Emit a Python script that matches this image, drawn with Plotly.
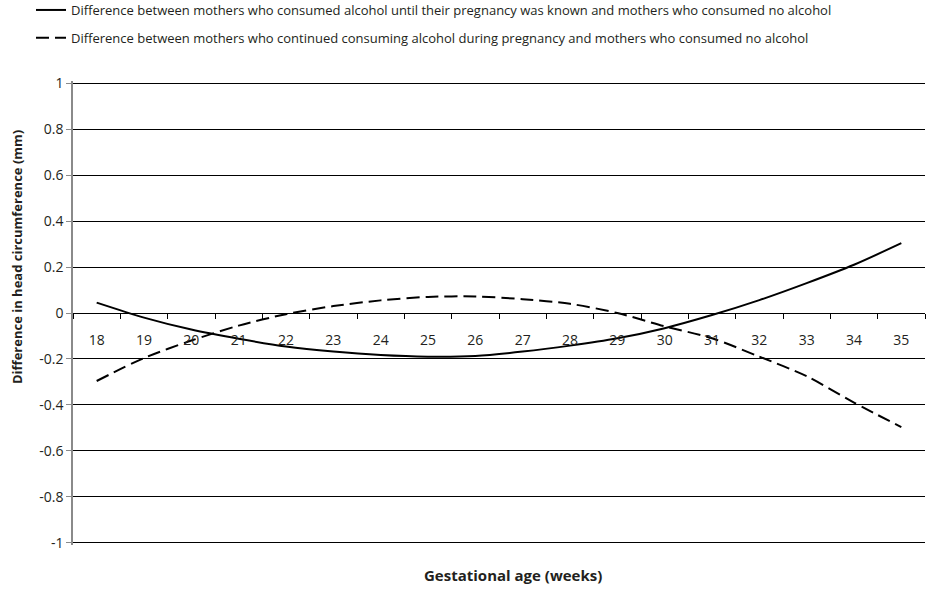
import plotly.graph_objects as go

# Gestational age categories (weeks)
weeks = [str(w) for w in range(18, 36)]

# Difference in head circumference (mm) vs. mothers who consumed no alcohol
until_known = [0.045, -0.02, -0.072, -0.112, -0.146, -0.168, -0.183, -0.19, -0.187,
               -0.168, -0.142, -0.11, -0.066, -0.009, 0.056, 0.13, 0.21, 0.304]
continued = [-0.296, -0.196, -0.12, -0.055, -0.005, 0.03, 0.055, 0.07, 0.072,
             0.06, 0.04, 0.0, -0.058, -0.11, -0.19, -0.275, -0.39, -0.497]

# Y axis ticks (plain hyphen minus signs)
y_tick_vals = [-1, -0.8, -0.6, -0.4, -0.2, 0, 0.2, 0.4, 0.6, 0.8, 1]
y_tick_text = ["-1", "-0.8", "-0.6", "-0.4", "-0.2", "0", "0.2", "0.4", "0.6", "0.8", "1"]

label_until = ("Difference between mothers who consumed alcohol until their pregnancy "
               "was known and mothers who consumed no alcohol")
label_cont = ("Difference between mothers who continued consuming alcohol during "
              "pregnancy and mothers who consumed no alcohol")

FONT = "Open Sans, Lato, sans-serif"
INK = "#231f20"

fig = go.Figure()
fig.add_trace(go.Scatter(
    x=weeks, y=until_known, mode="lines", name=label_until,
    line=dict(color="black", width=2, shape="spline", smoothing=0.8),
    legendgroup="a",
))
fig.add_trace(go.Scatter(
    x=weeks, y=continued, mode="lines", name=label_cont,
    line=dict(color="black", width=2, shape="spline", smoothing=0.8, dash="13px,6px"),
    legendgroup="b",
))

# small padding on the value range so the +/-1 gridlines stay visible
Y_PAD = 0.01
L, R, T, B = 73, 5, 81, 44
W, H = 930, 589
pw, ph = W - L - R, H - T - B


def y_paper(py):
    """Convert a pixel row to paper y coordinates."""
    return (H - B - py) / ph


fig.update_layout(
    width=W, height=H,
    margin=dict(l=L, r=R, t=T, b=B, autoexpand=False),
    paper_bgcolor="white", plot_bgcolor="white",
    font=dict(family=FONT, color=INK, size=13),
    showlegend=True,
    legend=dict(
        x=(31 - L) / pw, y=y_paper(-5), xanchor="left", yanchor="top",
        font=dict(family=FONT, size=13, color=INK),
        itemwidth=30, tracegroupgap=8, bgcolor="rgba(0,0,0,0)",
    ),
    xaxis=dict(
        type="category", range=[-0.5, len(weeks) - 0.5],
        anchor="free", position=0.5,
        showline=True, linecolor="black", linewidth=1,
        ticks="outside", tickson="boundaries", ticklen=5, tickcolor="black",
        showgrid=False, zeroline=False,
        tickfont=dict(family=FONT, size=14, color=INK),
        ticklabelstandoff=14,
    ),
    yaxis=dict(
        range=[-1 - Y_PAD, 1 + Y_PAD], tickmode="array",
        tickvals=y_tick_vals, ticktext=y_tick_text,
        showgrid=True, gridcolor="black", gridwidth=1,
        zeroline=False,
        showline=True, linecolor="#8a8a8a", linewidth=1.5,
        ticks="outside", ticklen=5, tickcolor="#8a8a8a",
        tickfont=dict(family=FONT, size=14, color=INK),
    ),
    annotations=[
        dict(
            text="<b>Gestational age (weeks)</b>",
            x=(513 - L) / pw, y=y_paper(575),
            xref="paper", yref="paper", xanchor="center", yanchor="middle",
            showarrow=False, font=dict(family=FONT, size=15, color=INK),
        ),
        dict(
            text="<b>Difference in head circumference (mm)</b>",
            x=-(L - 17) / pw, y=y_paper(257), textangle=-90,
            xref="paper", yref="paper", xanchor="center", yanchor="middle",
            showarrow=False, font=dict(family=FONT, size=13, color=INK),
        ),
    ],
)

fig.write_html("out.html")
